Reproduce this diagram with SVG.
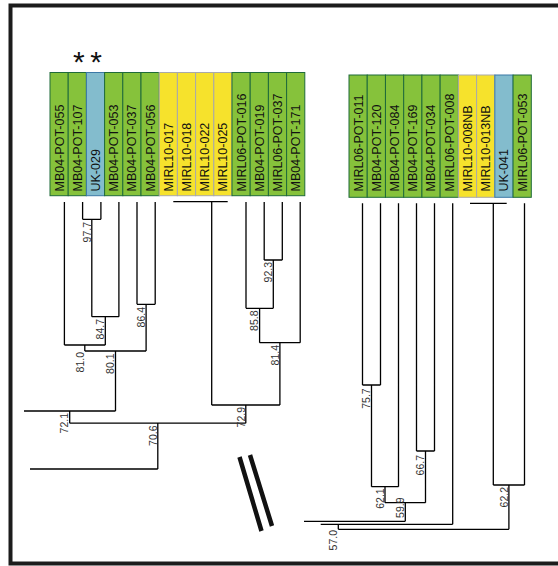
<svg xmlns="http://www.w3.org/2000/svg" width="558" height="566" viewBox="0 0 558 566">
<style>
.g{fill:#86c23b;stroke:#1f6b3a;stroke-width:1}
.y{fill:#f6e22c;stroke:#a9a9a9;stroke-width:1}
.b{fill:#83bccd;stroke:#3b78a6;stroke-width:1}
.n{font-family:"Liberation Sans",Arial,sans-serif;font-size:12.5px;fill:#111}
.s{font-family:"Liberation Sans",Arial,sans-serif;font-size:10.5px;fill:#333;text-anchor:end}
.ln{fill:none;stroke:#000;stroke-width:1.3}
.ast{font-family:"Liberation Sans",Arial,sans-serif;font-size:30px;fill:#111;text-anchor:middle}
</style>
<rect x="0" y="0" width="558" height="566" fill="#fff"/>
<rect x="10.5" y="5.5" width="600" height="558" fill="none" stroke="#1c1c1c" stroke-width="4"/>

<text class="ast" x="78.8" y="72">*</text>
<text class="ast" x="96" y="72">*</text>

<g id="L-MB04-POT-055"><rect class="g" x="50" y="72.5" width="18.2" height="123.2"/><text class="n" transform="translate(63.5,191.5) rotate(-90)">MB04-POT-055</text></g>
<g id="L-MB04-POT-107"><rect class="g" x="68.2" y="72.5" width="18.2" height="123.2"/><text class="n" transform="translate(81.7,191.5) rotate(-90)">MB04-POT-107</text></g>
<g id="L-UK-029"><rect class="b" x="86.4" y="72.5" width="18.2" height="123.2"/><text class="n" transform="translate(99.9,191.5) rotate(-90)">UK-029</text></g>
<g id="L-MB04-POT-053"><rect class="g" x="104.6" y="72.5" width="18.2" height="123.2"/><text class="n" transform="translate(118.1,191.5) rotate(-90)">MB04-POT-053</text></g>
<g id="L-MB04-POT-037"><rect class="g" x="122.8" y="72.5" width="18.2" height="123.2"/><text class="n" transform="translate(136.3,191.5) rotate(-90)">MB04-POT-037</text></g>
<g id="L-MB04-POT-056"><rect class="g" x="141" y="72.5" width="18.2" height="123.2"/><text class="n" transform="translate(154.5,191.5) rotate(-90)">MB04-POT-056</text></g>
<g id="L-MIRL10-017"><rect class="y" x="159.2" y="72.5" width="18.2" height="123.2"/><text class="n" transform="translate(172.7,191.5) rotate(-90)">MIRL10-017</text></g>
<g id="L-MIRL10-018"><rect class="y" x="177.4" y="72.5" width="18.2" height="123.2"/><text class="n" transform="translate(190.9,191.5) rotate(-90)">MIRL10-018</text></g>
<g id="L-MIRL10-022"><rect class="y" x="195.6" y="72.5" width="18.2" height="123.2"/><text class="n" transform="translate(209.1,191.5) rotate(-90)">MIRL10-022</text></g>
<g id="L-MIRL10-025"><rect class="y" x="213.8" y="72.5" width="18.2" height="123.2"/><text class="n" transform="translate(227.3,191.5) rotate(-90)">MIRL10-025</text></g>
<g id="L-MIRL06-POT-016"><rect class="g" x="232" y="72.5" width="18.2" height="123.2"/><text class="n" transform="translate(245.5,191.5) rotate(-90)">MIRL06-POT-016</text></g>
<g id="L-MB04-POT-019"><rect class="g" x="250.2" y="72.5" width="18.2" height="123.2"/><text class="n" transform="translate(263.7,191.5) rotate(-90)">MB04-POT-019</text></g>
<g id="L-MIRL06-POT-037"><rect class="g" x="268.4" y="72.5" width="18.2" height="123.2"/><text class="n" transform="translate(281.9,191.5) rotate(-90)">MIRL06-POT-037</text></g>
<g id="L-MB04-POT-171"><rect class="g" x="286.6" y="72.5" width="18.2" height="123.2"/><text class="n" transform="translate(300.1,191.5) rotate(-90)">MB04-POT-171</text></g>

<g id="R-MIRL06-POT-011"><rect class="g" x="349" y="75" width="18.23" height="122.3"/><text class="n" transform="translate(362.5,191.5) rotate(-90)">MIRL06-POT-011</text></g>
<g id="R-MB04-POT-120"><rect class="g" x="367.23" y="75" width="18.23" height="122.3"/><text class="n" transform="translate(380.7,191.5) rotate(-90)">MB04-POT-120</text></g>
<g id="R-MB04-POT-084"><rect class="g" x="385.46" y="75" width="18.23" height="122.3"/><text class="n" transform="translate(399,191.5) rotate(-90)">MB04-POT-084</text></g>
<g id="R-MB04-POT-169"><rect class="g" x="403.69" y="75" width="18.23" height="122.3"/><text class="n" transform="translate(417.2,191.5) rotate(-90)">MB04-POT-169</text></g>
<g id="R-MB04-POT-034"><rect class="g" x="421.92" y="75" width="18.23" height="122.3"/><text class="n" transform="translate(435.4,191.5) rotate(-90)">MB04-POT-034</text></g>
<g id="R-MIRL06-POT-008"><rect class="g" x="440.15" y="75" width="18.23" height="122.3"/><text class="n" transform="translate(453.7,191.5) rotate(-90)">MIRL06-POT-008</text></g>
<g id="R-MIRL10-008NB"><rect class="y" x="458.38" y="75" width="18.23" height="122.3"/><text class="n" transform="translate(471.9,191.5) rotate(-90)">MIRL10-008NB</text></g>
<g id="R-MIRL10-013NB"><rect class="y" x="476.61" y="75" width="18.23" height="122.3"/><text class="n" transform="translate(490.1,191.5) rotate(-90)">MIRL10-013NB</text></g>
<g id="R-UK-041"><rect class="b" x="494.84" y="75" width="18.23" height="122.3"/><text class="n" transform="translate(508.3,191.5) rotate(-90)">UK-041</text></g>
<g id="R-MIRL06-POT-053"><rect class="g" x="513.07" y="75" width="18.23" height="122.3"/><text class="n" transform="translate(526.6,191.5) rotate(-90)">MIRL06-POT-053</text></g>

<g id="connectors">
<path class="ln" d="M64.4,202V345 M82.6,202V219.3 M100.9,202V219.3 M118.9,202V316.7 M137,202V304.3 M155.2,202V304.3
M82.6,219.3H100.9 M91.8,219.3V316.7
M91.8,316.7H118.9 M105.3,316.7V345
M64.4,345H105.3 M84.8,345V351
M137,304.3H155.2 M146.1,304.3V351
M84.8,351H146.1 M115.5,351V411
M24,411H115.5 M69.7,411V423.2
M173.3,201.7H227.7 M211.7,201.7V405
M246,202V308.3 M264.2,202V260 M282.3,202V260 M300.2,202V342.7
M264.2,260H282.3 M273.3,260V308.3
M246,308.3H273.3 M259.6,308.3V342.7
M259.6,342.7H300.2 M279.9,342.7V405
M211.7,405H279.9 M245.8,405V423.2
M69.7,423.2H245.8 M157.8,423.2V469
M30,469H157.8"/>
<path class="ln" d="M362.5,203.3V385 M380.5,203.3V385 M398.5,203.3V486.7 M416.5,203.3V451 M434.5,203.3V451 M452.7,203.3V524.3
M470,203.3H506.7 M493.3,203.3V485 M524.5,203.3V485
M362.5,385H380.5 M371.5,385V486.7
M371.5,486.7H398.5 M385,486.7V502.7
M416.5,451H434.5 M425.5,451V502.7
M385,502.7H425.5 M405.3,502.7V521.3
M304,521.3H405.3
M320.7,524.3H452.7 M338.3,524.3V529.3
M493.3,485H524.5 M508.9,485V529.3
M338.3,529.3H508.9"/>
<path d="M239.5,457L261.5,531 M250,455L272,526" stroke="#111" stroke-width="4.5" fill="none"/>
</g>

<g id="support">
<text class="s" transform="translate(90.8,222) rotate(-90)">97.7</text>
<text class="s" transform="translate(104,319) rotate(-90)">84.7</text>
<text class="s" transform="translate(144.5,307) rotate(-90)">86.4</text>
<text class="s" transform="translate(83.5,352) rotate(-90)">81.0</text>
<text class="s" transform="translate(114.2,353.5) rotate(-90)">80.1</text>
<text class="s" transform="translate(68.3,413) rotate(-90)">72.1</text>
<text class="s" transform="translate(156.5,425.5) rotate(-90)">70.6</text>
<text class="s" transform="translate(272.3,262) rotate(-90)">92.3</text>
<text class="s" transform="translate(258.3,310.5) rotate(-90)">85.8</text>
<text class="s" transform="translate(278.6,345) rotate(-90)">81.4</text>
<text class="s" transform="translate(244.5,407) rotate(-90)">72.9</text>
<text class="s" transform="translate(370.3,388.3) rotate(-90)">75.7</text>
<text class="s" transform="translate(383.8,488.3) rotate(-90)">62.1</text>
<text class="s" transform="translate(404.3,497.5) rotate(-90)">59.9</text>
<text class="s" transform="translate(424.2,455) rotate(-90)">66.7</text>
<text class="s" transform="translate(507.6,487) rotate(-90)">62.2</text>
<text class="s" transform="translate(337,530) rotate(-90)">57.0</text>
</g>
</svg>
